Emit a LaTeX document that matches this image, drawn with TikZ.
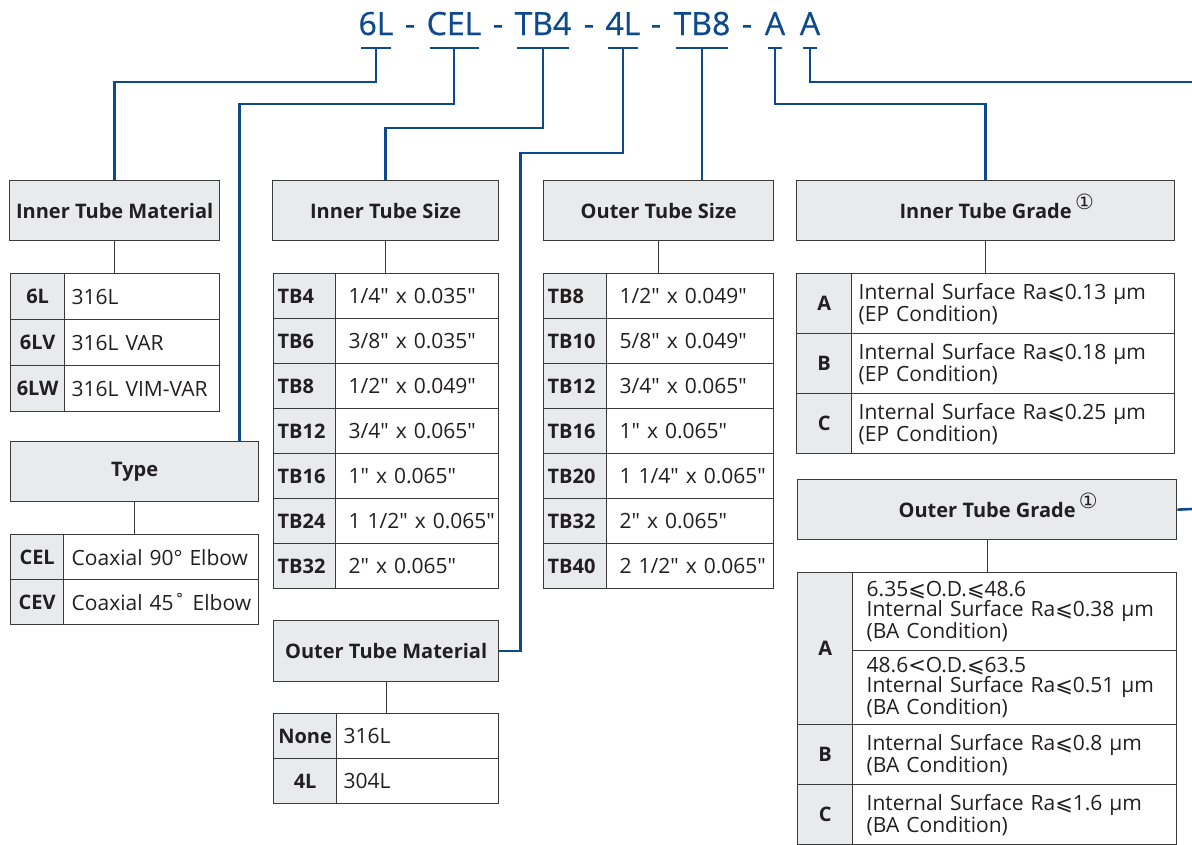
\documentclass[tikz,border=0pt]{standalone}
\usepackage{fontspec}
\setmainfont{Open Sans}[Ligatures=TeXOff]
\newfontfamily\symfont{DejaVu Sans}
\newfontfamily\codefont{Open Sans}[FakeBold=0.6]
\usetikzlibrary{positioning}
\definecolor{codeblue}{HTML}{0D4A8D}
\definecolor{cellgray}{HTML}{E9EAEB}
\definecolor{rulegray}{HTML}{3A3A3A}
\definecolor{inkblack}{HTML}{231F20}
\newcommand{\lsym}{{\symfont ⩽}}
\newcommand{\ltsym}{{\symfont <}}
\newcommand{\circone}{\rlap{\smash{\,\raisebox{9pt}{\symfont\mdseries\fontsize{21}{21}\selectfont ①}}}}
\tikzstyle{blueline} = [draw=codeblue, line width=2.6pt, line join=miter]
\tikzstyle{stem} = [draw=rulegray, line width=1.3pt]
\tikzstyle{codepart} = [text=codeblue, font=\codefont\fontsize{32}{34}\selectfont, anchor=base, inner sep=0pt]
\tikzstyle{head} = [draw=rulegray, line width=1.3pt, fill=cellgray, text=inkblack, font=\bfseries\fontsize{20}{22}\selectfont, anchor=north west, inner sep=0pt]
\tikzstyle{codecell} = [draw=rulegray, line width=1.3pt, fill=cellgray, text=inkblack, font=\bfseries\fontsize{20}{22}\selectfont, anchor=north west, inner ysep=0pt, inner xsep=4pt]
\tikzstyle{valcell} = [draw=rulegray, line width=1.3pt, fill=white, text=inkblack, font=\fontsize{21}{20.5}\selectfont, anchor=north west, inner ysep=0pt, align=left]

\begin{document}
\begin{tikzpicture}[x=1pt,y=-1pt]
\useasboundingbox (0,0) rectangle (1192,844);

\foreach \t/\x [count=\i] in {6L/376,-/410,CEL/454,-/498,TB4/543,-/589,4L/623,-/656,TB8/702,-/747,A/775,A/810}
 \node[codepart] (p\i) at (\x,35) {\t};
\foreach \i in {1,3,5,7,9,11,12}
 \draw[blueline] ([xshift=3pt,yshift=-13pt]p\i.base west) -- ([xshift=-3pt,yshift=-13pt]p\i.base east);

\node[head, minimum width=210, minimum height=60] (itm) at (9,180) {Inner Tube Material};
\node[head, minimum width=248, minimum height=60] (typ) at (10,441) {Type};
\node[head, minimum width=226, minimum height=60] (its) at (272,180) {Inner Tube Size};
\node[head, minimum width=230, minimum height=60] (ots) at (543,180) {Outer Tube Size};
\node[head, minimum width=225, minimum height=61] (otm) at (273,620) {Outer Tube Material};
\node[head, minimum width=378, minimum height=60] (itg) at (796,180) {Inner Tube Grade\circone};
\node[head, minimum width=379, minimum height=60] (otg) at (797,479) {Outer Tube Grade\circone};

\foreach \c/\v [count=\i from 0] in {6L/316L, 6LV/316L VAR, 6LW/316L VIM-VAR}
{
 \node[codecell, minimum width=54, minimum height=46] (itm-c\i) at (10,273+46*\i) {\c};
 \node[valcell, inner xsep=7pt, text width=141, minimum height=46] (itm-v\i) at (64,273+46*\i) {\mbox{\v}};
}

\foreach \c/\v [count=\i from 0] in {CEL/Coaxial 90° Elbow, CEV/Coaxial 45˚ Elbow}
{
 \node[codecell, minimum width=53, minimum height=45] (typ-c\i) at (10,534+45*\i) {\c};
 \node[valcell, inner xsep=8pt, text width=179, minimum height=45] (typ-v\i) at (63,534+45*\i) {\mbox{\v}};
}

\foreach \c/\v [count=\i from 0] in {TB4/{1/4" x 0.035"}, TB6/{3/8" x 0.035"}, TB8/{1/2" x 0.049"}, TB12/{3/4" x 0.065"}, TB16/{1" x 0.065"}, TB24/{1 1/2" x 0.065"}, TB32/{2" x 0.065"}}
{
 \node[codecell, text width=54, align=left, minimum height=45] (its-c\i) at (273,273+45*\i) {\c};
 \node[valcell, inner xsep=13pt, text width=137, minimum height=45] (its-v\i) at (335,273+45*\i) {\mbox{\v}};
}

\foreach \c/\v [count=\i from 0] in {TB8/{1/2" x 0.049"}, TB10/{5/8" x 0.049"}, TB12/{3/4" x 0.065"}, TB16/{1" x 0.065"}, TB20/{1 1/4" x 0.065"}, TB32/{2" x 0.065"}, TB40/{2 1/2" x 0.065"}}
{
 \node[codecell, text width=55, align=left, minimum height=45] (ots-c\i) at (543,273+45*\i) {\c};
 \node[valcell, inner xsep=13pt, text width=141, minimum height=45] (ots-v\i) at (606,273+45*\i) {\mbox{\v}};
}

\foreach \c/\v [count=\i from 0] in {None/316L, 4L/304L}
{
 \node[codecell, minimum width=63, minimum height=45] (otm-c\i) at (273,713+45*\i) {\c};
 \node[valcell, inner xsep=7pt, text width=148, minimum height=45] (otm-v\i) at (336,713+45*\i) {\mbox{\v}};
}

\foreach \c/\v [count=\i from 0] in {A/{Internal Surface Ra\lsym0.13 µm\\(EP Condition)}, B/{Internal Surface Ra\lsym0.18 µm\\(EP Condition)}, C/{Internal Surface Ra\lsym0.25 µm\\(EP Condition)}}
{
 \node[codecell, minimum width=55, minimum height=60] (itg-c\i) at (796,273+60*\i) {\c};
 \node[valcell, inner xsep=7pt, text width=309, minimum height=60] (itg-v\i) at (851,273+60*\i) {\v};
}

\node[codecell, minimum width=55, minimum height=152] (otg-c0) at (797,572) {A};
\node[valcell, inner xsep=14pt, text width=296, minimum height=78] (otg-v0) at (852,572) {6.35\lsym O.D.\lsym48.6\\Internal Surface Ra\lsym0.38 µm\\(BA Condition)};
\node[valcell, inner xsep=14pt, text width=296, minimum height=74] (otg-v1) at (852,650) {48.6\ltsym O.D.\lsym63.5\\Internal Surface Ra\lsym0.51 µm\\(BA Condition)};
\foreach \c/\v [count=\i from 1] in {B/{Internal Surface Ra\lsym0.8 µm\\(BA Condition)}, C/{Internal Surface Ra\lsym1.6 µm\\(BA Condition)}}
{
 \node[codecell, minimum width=55, minimum height=60] (otg-c\i) at (797,664+60*\i) {\c};
 \node[valcell, inner xsep=14pt, text width=296, minimum height=60] (otg-v\i x) at (852,664+60*\i) {\v};
}

\foreach \h in {itm,typ,its,ots,otm,itg,otg}
 \draw[stem] (\h.south) -- (\h.south |- \h-c0.north);

\coordinate (edge1) at (1192,82);
\coordinate (edge2) at (1192,509);
\draw[blueline] ([yshift=-13pt]p1.base) -- ++(0,34) -| (itm.north);
\draw[blueline] ([yshift=-13pt]p3.base) -- ++(0,56) -| ([xshift=-20pt]typ.north east);
\draw[blueline] ([yshift=-13pt]p5.base) -- ++(0,80) -| (its.north);
\draw[blueline] ([yshift=-13pt]p7.base) -- ++(0,105) -| ([xshift=21pt]otm.east) -- (otm.east);
\draw[blueline] ([yshift=-13pt]p9.base) -- (ots.north -| p9.base);
\draw[blueline] ([yshift=-13pt]p11.base) -- ++(0,56) -| (itg.north);
\draw[blueline] ([yshift=-13pt]p12.base) |- (edge1);
\draw[blueline] (otg.east) -- (edge2);
\end{tikzpicture}
\end{document}
